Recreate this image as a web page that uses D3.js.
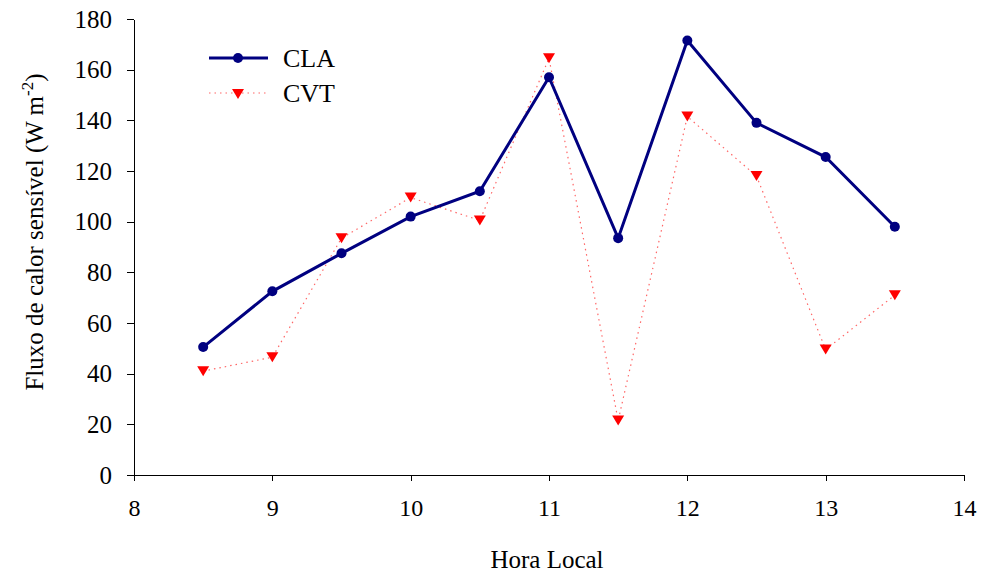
<!DOCTYPE html>
<meta charset="utf-8">
<style>
body{margin:0;background:#fff;}
svg text{font-family:"Liberation Serif","Times New Roman",serif;fill:#000;}
.axis path,.axis line{stroke:#000;stroke-width:1px;shape-rendering:crispEdges;}
</style>
<body>
<script src="https://d3js.org/d3.v7.min.js"></script>
<script>
var hours = [8.5, 9, 9.5, 10, 10.5, 11, 11.5, 12, 12.5, 13, 13.5];
var cla = [50.5, 72.5, 87.5, 102, 112, 157, 93.5, 171.5, 139, 125.5, 98];
var cvt = [41, 46.5, 93.5, 109.5, 100.5, 164.5, 21.5, 141.5, 118, 49.5, 71];
var xTicks = [8, 9, 10, 11, 12, 13, 14];
var yTicks = [0, 20, 40, 60, 80, 100, 120, 140, 160, 180];

var W = 982, H = 574;
var serif = "Liberation Serif, Times New Roman, serif";
var svg = d3.select("body").append("svg").attr("width", W).attr("height", H);

var x = d3.scaleLinear().domain([8, 14]).range([134, 964]);
var y = d3.scaleLinear().domain([0, 180]).range([475, 19]);

var gx = svg.append("g").attr("class", "axis")
  .attr("transform", "translate(0,475)")
  .call(d3.axisBottom(x).tickValues(xTicks).tickFormat(d3.format("d"))
    .tickSize(6).tickSizeOuter(0).tickPadding(18));
gx.attr("font-family", serif).attr("font-size", 24);

var gy = svg.append("g").attr("class", "axis")
  .attr("transform", "translate(134,0)")
  .call(d3.axisLeft(y).tickValues(yTicks).tickSize(7).tickSizeOuter(0).tickPadding(15));
gy.attr("font-family", serif).attr("font-size", 25);

// CVT series
var cvtData = hours.map(function(h, i){ return [h, cvt[i]]; });
svg.append("path").datum(cvtData)
  .attr("fill", "none").attr("stroke", "#ff6666").attr("stroke-width", 1.2)
  .attr("stroke-dasharray", "1.5,4")
  .attr("d", d3.line().x(d => x(d[0])).y(d => y(d[1])));

var tri = "M-6,-5L6,-5L0,5Z";
svg.selectAll(".cvt").data(cvtData).enter().append("path")
  .attr("class", "cvt")
  .attr("transform", d => "translate(" + x(d[0]) + "," + y(d[1]) + ")")
  .attr("d", tri).attr("fill", "#ff0000");

// CLA series
var claData = hours.map(function(h, i){ return [h, cla[i]]; });
svg.append("path").datum(claData)
  .attr("fill", "none").attr("stroke", "#000080").attr("stroke-width", 3)
  .attr("d", d3.line().x(d => x(d[0])).y(d => y(d[1])));
svg.selectAll(".cla").data(claData).enter().append("circle")
  .attr("class", "cla")
  .attr("cx", d => x(d[0])).attr("cy", d => y(d[1])).attr("r", 5)
  .attr("fill", "#000080");

// legend
var lg = svg.append("g");
lg.append("line").attr("x1", 209).attr("x2", 268).attr("y1", 58).attr("y2", 58)
  .attr("stroke", "#000080").attr("stroke-width", 3);
lg.append("circle").attr("cx", 238).attr("cy", 58).attr("r", 5).attr("fill", "#000080");
lg.append("text").attr("x", 283).attr("y", 67).style("font-size", "26px").text("CLA");
lg.append("line").attr("x1", 209).attr("x2", 268).attr("y1", 93).attr("y2", 93)
  .attr("stroke", "#ff6666").attr("stroke-width", 1.2).attr("stroke-dasharray", "1.5,4");
lg.append("path").attr("transform", "translate(238,94)").attr("d", tri).attr("fill", "#ff0000");
lg.append("text").attr("x", 283).attr("y", 102).style("font-size", "26px").text("CVT");

// axis titles
svg.append("text").attr("x", 547).attr("y", 568).attr("text-anchor", "middle")
  .style("font-size", "25px").text("Hora Local");

var yt = svg.append("text").attr("transform", "translate(43,232) rotate(-90)")
  .attr("text-anchor", "middle").style("font-size", "25px");
yt.append("tspan").text("Fluxo de calor sensível (W m");
yt.append("tspan").attr("dy", -10).style("font-size", "17px").text("-2");
yt.append("tspan").attr("dy", 10).text(")");
</script>
</body>
